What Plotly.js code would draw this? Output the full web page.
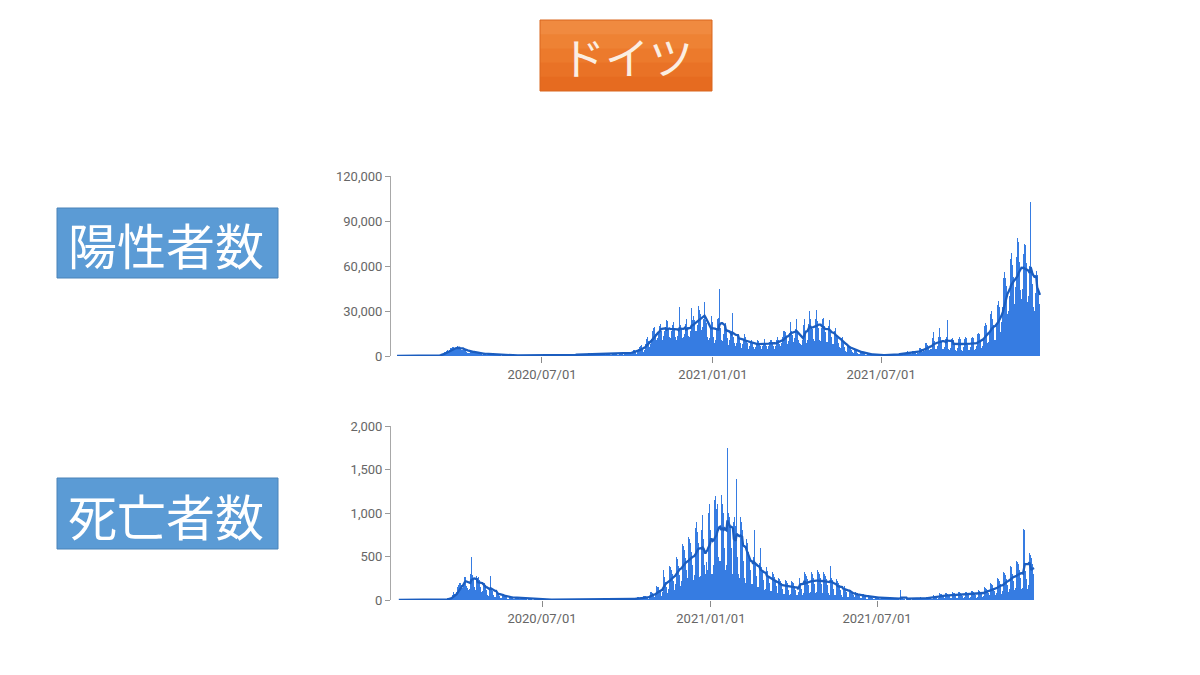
<!DOCTYPE html>
<html>
<head>
<meta charset="utf-8">
<script src="https://cdn.plot.ly/plotly-3.0.1.min.js"></script>
<style>
html,body{margin:0;padding:0;background:#fff;}
#chart{width:1200px;height:675px;}
</style>
</head>
<body>
<div id="chart"></div>
<script>
// ---- DATA (daily, one week per line, Mon..Sun, first day 2020-01-27) ----
const START_DATE = '2020-01-27';
const TITLE = 'ドイツ';
const LABEL_CASES = '陽性者数';
const LABEL_DEATHS = '死亡者数';
const TICK_DATES = ['2020-07-01', '2021-01-01', '2021-07-01'];
const TICK_TEXT = ['2020/07/01', '2021/01/01', '2021/07/01'];

const cases = [
0,0,1,3,0,1,0,
2,0,2,1,0,0,0,
0,2,0,0,0,0,0,
0,0,0,0,0,0,0,
0,0,10,4,30,40,0,
30,30,45,25,120,150,190,
280,370,450,800,1000,900,1000,
1000,2000,3000,2800,3300,3900,3300,
4200,4300,5400,5600,6100,5700,4000,
4900,4900,6600,6000,6200,4600,4300,
3700,3800,4000,5200,4200,3000,2200,
2200,2000,2800,3400,3100,3200,2200,
1800,1400,2500,2300,1900,2000,1600,
1100,1000,1600,1500,1600,900,800,
700,800,1200,1300,1100,700,700,
500,900,800,700,600,600,500,
300,600,800,700,500,600,400,
300,400,600,500,700,300,200,
200,300,400,500,400,300,200,
200,300,500,500,400,300,200,
200,400,600,800,700,600,300,
300,500,600,600,700,500,300,
250,400,500,450,400,300,200,
200,400,400,450,400,300,200,
200,400,600,500,450,350,200,
250,500,600,600,800,700,300,
400,600,900,1000,900,800,400,
500,900,1000,1100,1200,900,400,
600,1200,1400,1500,1400,1200,500,
700,1300,1600,1700,1700,1300,600,
700,1400,1600,1700,1600,1200,600,
600,1200,1500,1600,1500,1100,600,
700,1300,1500,1700,1600,1300,600,
800,1600,1900,2100,2000,1500,800,
900,1800,2200,2300,2200,1700,900,
1100,2100,2600,2800,2700,2100,1200,
1500,2600,3800,4100,4300,3200,1600,
2500,4400,6000,6700,7300,5000,3000,
4300,7800,11300,12300,13000,10000,6000,
8000,11400,17000,19000,19500,15000,11000,
12000,15400,19900,30000,21500,17000,11000,
13500,16800,19500,24000,23500,18000,13000,
12000,16500,21000,23500,23000,19000,13000,
11000,13500,17500,32500,21000,18000,12000,
12500,15000,21500,23500,24500,19500,13500,
12500,16500,32000,24000,27000,24000,17000,
16500,21000,33500,31000,31000,28000,17500,
19500,25000,36000,24000,22000,13000,11000,
12000,20000,27000,25000,22500,12500,9000,
10500,19000,24500,25500,44500,18500,11000,
10000,14500,21500,23000,22000,17000,12000,
7500,11000,15500,17000,29000,12500,9000,
6500,9000,13500,17500,14500,12000,8500,
5500,8000,10500,14500,13000,11000,8500,
5000,6500,8500,12500,11000,9000,6000,
4800,6000,8000,11000,10300,9000,6500,
4500,6500,8500,11500,11000,9000,7000,
4500,6600,9500,11000,10500,9500,7000,
5000,7000,10500,13000,12500,10500,8000,
6500,9000,12500,16500,17000,16000,12500,
8000,10000,15500,22500,21500,17000,14000,
9500,12000,18000,25000,16000,11000,9000,
8000,7500,11000,21000,25500,24500,17000,
8500,10500,21500,30000,25000,19500,18000,
11500,10000,24500,30500,27500,23500,19000,
11000,10000,19000,25000,25500,20000,16000,
9500,9500,20000,24000,19000,16500,12500,
8000,8000,16500,18500,14000,12000,8500,
6000,5500,12000,12500,9000,8500,6000,
3500,3000,6500,7500,7000,6000,4000,
2500,2000,4600,5000,3400,3500,2200,
1500,1400,3200,3200,2500,2200,1300,
1000,900,1500,1700,1300,1100,800,
500,600,1000,1000,900,700,400,
400,500,800,900,700,600,400,
400,500,900,1000,800,700,400,
500,600,1300,1400,1300,1100,700,
800,900,1900,2000,1700,1500,900,
1200,1300,2800,3100,2500,2100,1300,
1600,1600,3500,3600,2900,2400,1600,
2200,2100,5200,5600,5000,4100,2500,
3300,3200,8400,8800,7600,6000,3800,
4500,4500,12000,16000,10000,8500,5000,
4800,6500,12500,18500,12500,9500,5000,
4500,6000,11500,13000,24000,8000,4500,
4000,5500,11500,12000,11000,7500,4000,
3500,5500,11500,12500,11500,7500,3800,
3600,5700,11500,12900,11800,7600,3900,
3700,6000,12000,13000,12000,8000,4000,
4500,7000,14500,15500,15000,10000,5500,
6500,11000,20000,22000,21000,15000,8500,
9500,15000,28000,30000,25000,21000,10500,
10500,20000,34000,37000,33000,29000,16000,
23000,33000,52000,56000,52000,47000,28000,
30000,40000,65000,69000,61000,53000,33000,
35000,46000,66000,79000,76000,63000,44000,
38000,45000,68000,75000,74000,62000,40000,
36000,40000,60000,103000,56000,48000,33000,
30000,42000,57000,54000,45000,35000,22000
];

const deaths = [
0,0,0,0,0,0,0,
0,0,0,0,0,0,0,
0,0,0,0,0,0,0,
0,0,0,0,0,0,0,
0,0,0,0,0,0,0,
0,0,0,0,0,0,0,
0,2,0,0,1,2,2,
4,4,10,8,24,23,10,
10,38,55,60,90,65,70,
90,150,170,200,190,170,140,
160,330,260,260,160,140,120,
130,300,500,290,250,150,100,
110,280,250,260,230,150,90,
100,180,200,170,160,120,60,
50,110,280,120,100,60,30,
30,110,100,90,70,50,20,
20,70,70,60,45,30,15,
15,45,40,40,35,20,10,
10,30,30,30,25,15,8,
8,25,25,22,20,12,6,
5,18,16,15,14,8,4,
4,12,12,10,9,6,3,
3,9,9,8,7,5,2,
2,8,7,7,6,4,2,
2,7,6,6,5,3,1,
2,6,6,5,4,3,1,
1,5,5,4,4,2,1,
1,6,5,5,4,3,1,
1,6,6,5,4,3,1,
2,7,7,6,5,3,1,
2,8,7,6,5,3,1,
2,7,7,6,5,3,1,
2,8,7,6,5,4,1,
3,9,9,8,7,5,2,
4,12,11,10,9,6,3,
5,15,14,13,11,8,4,
6,17,17,16,13,10,5,
10,32,30,28,24,17,10,
15,50,48,45,38,28,15,
30,95,90,85,70,50,30,
55,160,155,145,120,90,50,
95,350,270,250,210,150,85,
130,390,380,350,300,215,120,
180,520,500,470,390,290,160,
220,640,620,570,480,350,200,
250,720,700,650,550,400,225,
290,830,900,780,650,460,270,
280,800,980,700,400,300,440,
350,1000,1100,900,800,300,300,
400,1150,1200,1050,1100,500,450,
450,950,1206,1100,1000,600,350,
400,1745,1000,950,850,600,320,
300,900,950,850,1390,500,300,
250,950,900,800,700,450,250,
200,700,650,550,500,350,180,
180,500,800,450,400,280,150,
150,420,600,380,330,230,120,
130,380,380,330,280,200,100,
100,320,300,270,230,160,80,
80,250,240,220,190,130,65,
70,230,220,200,170,120,60,
70,220,210,190,160,110,55,
60,90,500,250,200,130,60,
80,320,300,280,240,170,80,
90,340,320,300,250,180,80,
90,340,320,300,250,180,80,
80,320,300,280,240,170,75,
60,390,250,230,190,130,60,
55,240,220,200,170,120,55,
40,120,180,160,130,90,40,
30,120,110,100,85,60,30,
25,90,85,80,65,45,20,
20,70,65,60,50,35,15,
15,55,50,45,40,28,12,
12,42,40,37,30,22,10,
10,35,32,30,25,17,8,
8,28,26,24,20,14,6,
6,24,22,20,17,12,5,
6,110,22,20,17,12,5,
6,23,21,20,16,12,5,
7,26,24,22,18,13,6,
8,30,28,26,22,16,7,
10,37,35,32,27,20,9,
15,52,50,45,38,28,13,
22,75,70,65,55,40,20,
25,82,78,72,60,44,22,
27,88,85,78,66,48,24,
28,92,88,80,68,50,25,
30,95,92,85,72,52,26,
32,102,98,90,77,56,28,
36,118,112,104,88,64,32,
45,145,140,130,110,80,40,
60,190,180,170,140,105,55,
80,250,240,220,185,135,70,
100,320,310,290,240,175,95,
125,395,380,355,295,215,115,
140,450,440,410,340,250,130,
140,420,815,800,330,240,130,
170,540,520,480,410,300,160
];

// ---- derived: consecutive dates and trailing 7-day average ----
function makeDates(start, n) {
  const out = [];
  const t0 = Date.parse(start + 'T00:00:00Z');
  for (let i = 0; i < n; i++) out.push(new Date(t0 + i * 86400000).toISOString().slice(0, 10));
  return out;
}
function trailingMean(arr, k) {
  return arr.map((_, i) => {
    const s = Math.max(0, i - k + 1);
    let sum = 0;
    for (let j = s; j <= i; j++) sum += arr[j];
    return sum / (i - s + 1);
  });
}
const datesC = makeDates(START_DATE, cases.length);
const datesD = makeDates(START_DATE, deaths.length);

const BAR = '#367ce2';
const LINE = '#1b5dbf';

const traces = [
  {type: 'bar', x: datesC, y: cases, xaxis: 'x', yaxis: 'y',
   marker: {color: BAR, line: {width: 0}}, hoverinfo: 'x+y'},
  {type: 'scatter', mode: 'lines', x: datesC, y: trailingMean(cases, 7), xaxis: 'x', yaxis: 'y',
   line: {color: LINE, width: 2.3}, hoverinfo: 'x+y'},
  {type: 'bar', x: datesD, y: deaths, xaxis: 'x2', yaxis: 'y2',
   marker: {color: BAR, line: {width: 0}}, hoverinfo: 'x+y'},
  {type: 'scatter', mode: 'lines', x: datesD, y: trailingMean(deaths, 7), xaxis: 'x2', yaxis: 'y2',
   line: {color: LINE, width: 2.3}, hoverinfo: 'x+y'}
];

const W = 1200, H = 675;
const px = v => v / W;
const py = v => 1 - v / H;

const xCommon = {
  type: 'date', tickvals: TICK_DATES, ticktext: TICK_TEXT,
  ticks: 'outside', ticklen: 6, tickwidth: 1, tickcolor: '#8a8a8a',
  showgrid: false, zeroline: false, showline: false,
  tickfont: {family: 'Roboto, Arial, sans-serif', size: 13, color: '#666666'}
};
const yCommon = {
  ticks: 'outside', ticklen: 5, tickwidth: 1, tickcolor: '#9a9a9a',
  showline: true, linecolor: '#a8a8a8', linewidth: 1,
  showgrid: false, zeroline: false, tickformat: ',', fixedrange: true,
  tickfont: {family: 'Roboto, Arial, sans-serif', size: 13, color: '#666666'}
};

// title box bands (light top -> darker bottom), slightly overlapping to avoid seams
const titleBands = ['#f08a40', '#ee8234', '#ec7a2c', '#e97226', '#e66b20'];
const shapes = [];
const tTop = 20, tBot = 91, tL = 540, tR = 712;
const bandH = (tBot - tTop) / titleBands.length;
titleBands.forEach((c, i) => {
  shapes.push({type: 'rect', xref: 'paper', yref: 'paper',
    x0: px(tL), x1: px(tR),
    y0: py(Math.min(tBot, tTop + (i + 1) * bandH + 1)), y1: py(tTop + i * bandH),
    fillcolor: c, line: {width: 0}});
});
shapes.push({type: 'rect', xref: 'paper', yref: 'paper', x0: px(tL), x1: px(tR), y0: py(tBot), y1: py(tTop),
  fillcolor: 'rgba(0,0,0,0)', line: {color: '#d9661e', width: 1}});
shapes.push({type: 'rect', xref: 'paper', yref: 'paper', x0: px(57), x1: px(278), y0: py(278), y1: py(208),
  fillcolor: '#5b9bd5', line: {color: '#4a83b8', width: 1}});
shapes.push({type: 'rect', xref: 'paper', yref: 'paper', x0: px(57), x1: px(278), y0: py(549), y1: py(478),
  fillcolor: '#5b9bd5', line: {color: '#4a83b8', width: 1}});

const cjk = '"Noto Sans CJK JP", "Noto Sans CJK SC", sans-serif';
const annotations = [
  {xref: 'paper', yref: 'paper', x: px(627), y: py(56), text: TITLE, showarrow: false,
   xanchor: 'center', yanchor: 'middle', font: {family: cjk, size: 44, color: '#fbeee2'}},
  {xref: 'paper', yref: 'paper', x: px(166), y: py(243), text: LABEL_CASES, showarrow: false,
   xanchor: 'center', yanchor: 'middle', font: {family: cjk, size: 49, color: '#ffffff'}},
  {xref: 'paper', yref: 'paper', x: px(166), y: py(514), text: LABEL_DEATHS, showarrow: false,
   xanchor: 'center', yanchor: 'middle', font: {family: cjk, size: 49, color: '#ffffff'}}
];

const layout = {
  width: W, height: H,
  margin: {l: 0, r: 0, t: 0, b: 0},
  paper_bgcolor: '#ffffff', plot_bgcolor: 'rgba(0,0,0,0)',
  showlegend: false, bargap: 0,
  font: {family: 'Roboto, Arial, sans-serif', color: '#666666', size: 13},
  xaxis: Object.assign({}, xCommon, {domain: [px(391), px(1049)], anchor: 'y',
    range: ['2020-01-20 12:00', '2021-12-28 17:00']}),
  yaxis: Object.assign({}, yCommon, {domain: [py(356), py(176)], anchor: 'x',
    range: [0, 120000], dtick: 30000, tick0: 0}),
  xaxis2: Object.assign({}, xCommon, {domain: [px(391), px(1043)], anchor: 'y2',
    range: ['2020-01-18 12:00', '2021-12-28 19:00']}),
  yaxis2: Object.assign({}, yCommon, {domain: [py(600), py(426)], anchor: 'x2',
    range: [0, 2000], dtick: 500, tick0: 0}),
  shapes: shapes,
  annotations: annotations
};

Plotly.newPlot('chart', traces, layout, {displayModeBar: false, staticPlot: true});
</script>
</body>
</html>
